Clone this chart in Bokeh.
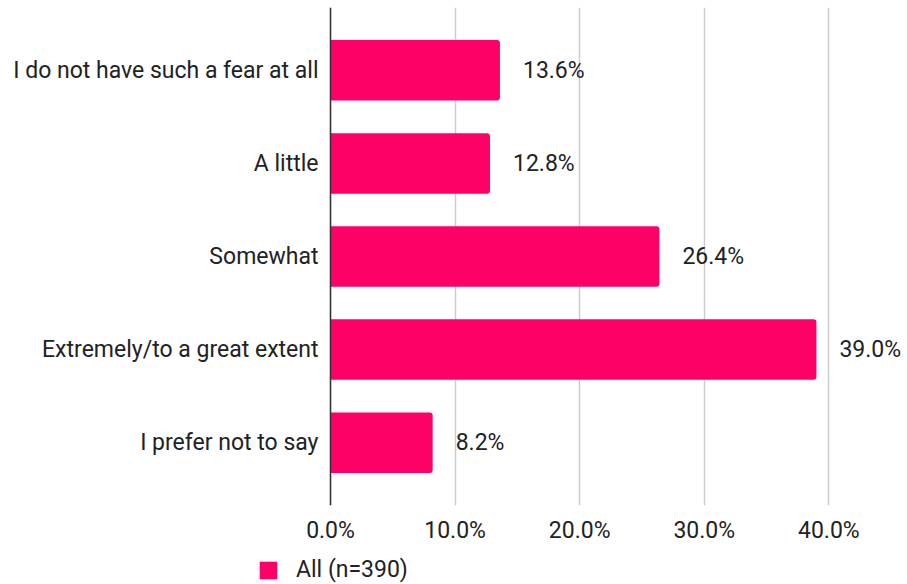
from bokeh.plotting import figure
from bokeh.layouts import column
from bokeh.models import (FactorRange, Range1d, FixedTicker, NumeralTickFormatter,
                          ColumnDataSource, Legend, LegendItem, Span)
from bokeh.core.properties import value
from bokeh.embed import file_html
from bokeh.resources import INLINE

categories = ["I do not have such a fear at all", "A little", "Somewhat",
              "Extremely/to a great extent", "I prefer not to say"]
values = [0.136, 0.128, 0.264, 0.390, 0.082]
series_name = "All (n=390)"
x_ticks = [0.0, 0.1, 0.2, 0.3, 0.4]

labels = [f"{v*100:.1f}%" for v in values]
src = ColumnDataSource(dict(cat=categories, val=values, lab=labels))

FONT = "Roboto"
FS = "23px"
BAR = "#FF0066"
TXT = "#222222"

p = figure(width=907, height=546,
           y_range=FactorRange(factors=categories[::-1], range_padding=0.175,
                               range_padding_units="absolute"),
           x_range=Range1d(-0.0586, 0.4599),
           output_backend="svg", toolbar_location=None,
           min_border_left=257, min_border_right=4,
           min_border_top=7, min_border_bottom=40)
p.outline_line_color = None
p.background_fill_color = "white"

p.hbar(y="cat", right="val", left=0, height=0.65, source=src,
       fill_color=BAR, line_color=None, border_radius=(0, 3, 3, 0))

p.text(x="val", y="cat", text="lab", source=src, x_offset=23,
       text_baseline="middle", text_align="left",
       text_font=value(FONT), text_font_size=FS, text_color=TXT)

# x axis
p.xaxis.ticker = FixedTicker(ticks=x_ticks)
p.xaxis.formatter = NumeralTickFormatter(format="0.0%")
p.xaxis.axis_line_color = None
p.xaxis.major_tick_line_color = None
p.xaxis.minor_tick_line_color = None
p.xaxis.major_tick_out = 0
p.xaxis.minor_tick_out = 0
p.xaxis.major_label_standoff = 11
p.xaxis.major_label_text_font = FONT
p.xaxis.major_label_text_font_size = FS
p.xaxis.major_label_text_color = TXT

# y axis: labels right-aligned just left of the zero line
p.yaxis.axis_line_color = None
p.yaxis.major_tick_line_color = None
p.yaxis.minor_tick_line_color = None
p.yaxis.major_tick_out = 0
p.yaxis.minor_tick_out = 0
p.yaxis.major_label_standoff = -61
p.yaxis.major_label_text_font = FONT
p.yaxis.major_label_text_font_size = FS
p.yaxis.major_label_text_color = TXT

p.xgrid.ticker = FixedTicker(ticks=x_ticks)
p.xgrid.grid_line_color = "#cccccc"
p.xgrid.grid_line_width = 1.5
p.ygrid.grid_line_color = None

p.add_layout(Span(location=0, dimension="height", line_color="#333333",
                  line_width=1.5))

# legend strip below the chart (its proxy bars are hidden)
q = figure(width=907, height=38,
           x_range=Range1d(-11, -10),
           y_range=FactorRange(factors=categories[::-1]),
           output_backend="svg", toolbar_location=None,
           x_axis_location=None, y_axis_location=None,
           min_border_left=257, min_border_right=4,
           min_border_top=0, min_border_bottom=0)
q.outline_line_color = None
q.grid.visible = False
lr = q.hbar(y="cat", right="val", left=0, height=0.65, source=src,
            fill_color=BAR, line_color=None, border_radius=3)
lr.visible = False

lg = Legend(items=[LegendItem(label=series_name, renderers=[lr])],
            location=(0, 1), padding=0, margin=0,
            border_line_alpha=0, background_fill_alpha=0,
            inactive_fill_alpha=0,
            glyph_width=22, glyph_height=22, label_height=22,
            label_standoff=17, label_text_font=FONT,
            label_text_font_size=FS, label_text_color=TXT)
q.add_layout(lg, "center")

layout = column(p, q, spacing=0)
open("out.html", "w").write(file_html(layout, INLINE))
